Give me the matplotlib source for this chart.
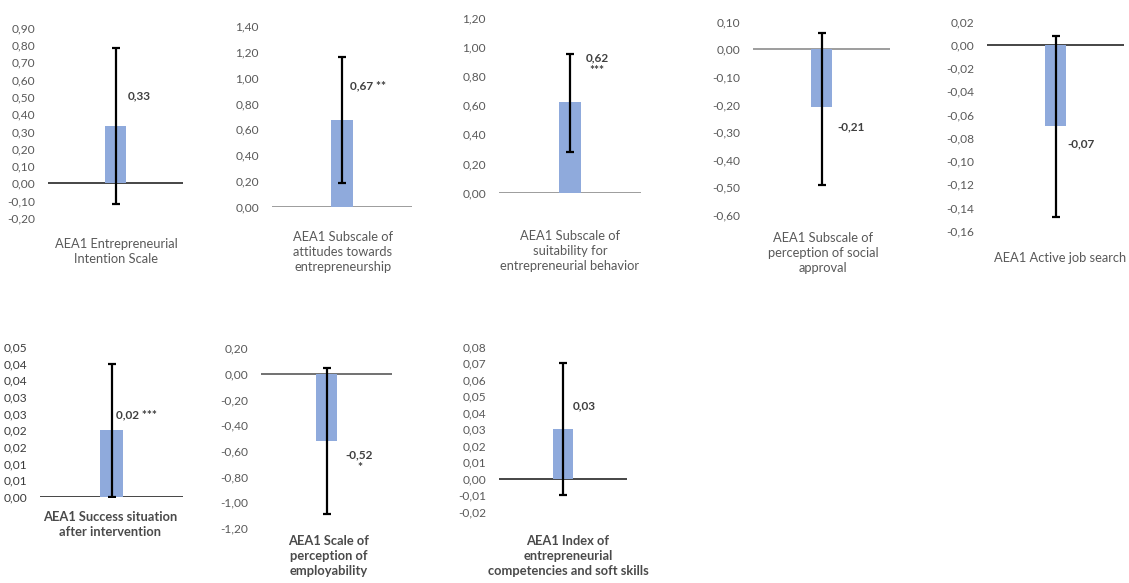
import matplotlib.pyplot as plt
import numpy as np

plt.rcParams['font.family'] = ['Lato', 'DejaVu Sans']

# data
categories = [
    "AEA1 Entrepreneurial\nIntention Scale",
    "AEA1 Subscale of\nattitudes towards\nentrepreneurship",
    "AEA1 Subscale of\nsuitability for\nentrepreneurial behavior",
    "AEA1 Subscale of\nperception of social\napproval",
    "AEA1 Active job search",
    "AEA1 Success situation\nafter intervention",
    "AEA1 Scale of\nperception of\nemployability",
    "AEA1 Index of\nentrepreneurial\ncompetencies and soft skills",
]
means = [0.33, 0.67, 0.62, -0.21, -0.07, 0.02, -0.52, 0.03]
ci_upper = [0.78, 1.16, 0.95, 0.06, 0.008, 0.04, 0.05, 0.07]
ci_lower = [-0.12, 0.18, 0.28, -0.49, -0.148, 0.0, -1.09, -0.01]
value_labels = ["0,33", "0,67 **", "0,62\n***", "-0,21", "-0,07",
                "0,02 ***", "-0,52\n*", "0,03"]
y_min = [-0.20, 0.00, 0.00, -0.60, -0.16, 0.000, -1.20, -0.02]
y_max = [0.90, 1.40, 1.20, 0.10, 0.02, 0.045, 0.20, 0.08]
y_step = [0.10, 0.20, 0.20, 0.10, 0.02, 0.005, 0.20, 0.01]
success_tick_labels = ["0,00", "0,01", "0,01", "0,02", "0,02",
                       "0,03", "0,03", "0,04", "0,04", "0,05"]

# layout (pixels): axis line x-range, top/bottom of y-range
W, H = 1129, 583
boxes = [
    (48, 183, 27.7, 218),
    (272, 412, 26, 206.7),
    (499, 641, 17.7, 192.7),
    (753, 890, 21.7, 215),
    (987, 1124, 21.7, 230.7),
    (40, 183, 347, 497),
    (261, 392, 348.3, 527.7),
    (499, 627, 346.7, 511.7),
]
zero_colors = ['#262626', '#8c8c8c', '#8c8c8c', '#8c8c8c',
               '#262626', '#262626', '#595959', '#262626']
label_pos = [0.505, 0.935, 0.88, -0.28, -0.085, 0.0246, -0.68, 0.0442]
label_dx = [12.5, 8, 27, 16, 11.5, 4.5, 33, 9.5]
cat_pos = [(116, 238), (343, 231), (570, 230), (823, 232), (1060, 252),
           (110, 511), (329, 535), (568, 535)]

fig = plt.figure(figsize=(W / 100, H / 100), dpi=100)

for i in range(8):
    x0, x1, yt, yb = boxes[i]
    ax = fig.add_axes([x0 / W, 1 - yb / H, (x1 - x0) / W, (yb - yt) / H])
    ax.set_xlim(-1, 1)
    ax.set_ylim(y_min[i], y_max[i])

    ax.axhline(0, color=zero_colors[i], lw=1.2, zorder=1)
    ax.bar(0, means[i], width=0.32, color='#8FAADC', zorder=2)
    m = means[i]
    ax.errorbar(0, m, yerr=[[m - ci_lower[i]], [ci_upper[i] - m]], fmt='none',
                ecolor='black', elinewidth=1.6, capsize=2.6, capthick=1.6,
                zorder=3)

    ticks = np.arange(y_min[i], y_max[i] + y_step[i] / 2, y_step[i])
    ax.set_yticks(ticks)
    if i == 5:
        ax.set_yticklabels(success_tick_labels)
    else:
        ax.set_yticklabels([f"{round(t, 2) + 0:.2f}".replace('.', ',') for t in ticks])
    ax.set_xticks([])
    for s in ax.spines.values():
        s.set_visible(False)
    tick_color = '#3a3a3a' if i == 5 else '#595959'
    ax.tick_params(axis='y', length=0, pad=9.4, labelsize=8.6, labelcolor=tick_color)

    two_line = '\n' in value_labels[i]
    ax.annotate(value_labels[i], xy=(0, label_pos[i]),
                xytext=(label_dx[i] * 0.72, 0), textcoords='offset points',
                ha='center' if two_line else 'left', va='center',
                fontsize=8.5, fontweight='bold', color='#404040',
                linespacing=1.2)

    cx, cy = cat_pos[i]
    bottom_row = i >= 5
    fig.text(cx / W, 1 - cy / H, categories[i], ha='center', va='top',
             fontsize=9.3, linespacing=1.3,
             fontweight='bold' if bottom_row else 'normal',
             color='#4a4a4a' if bottom_row else '#595959')

fig.savefig('out.png', dpi=100)
